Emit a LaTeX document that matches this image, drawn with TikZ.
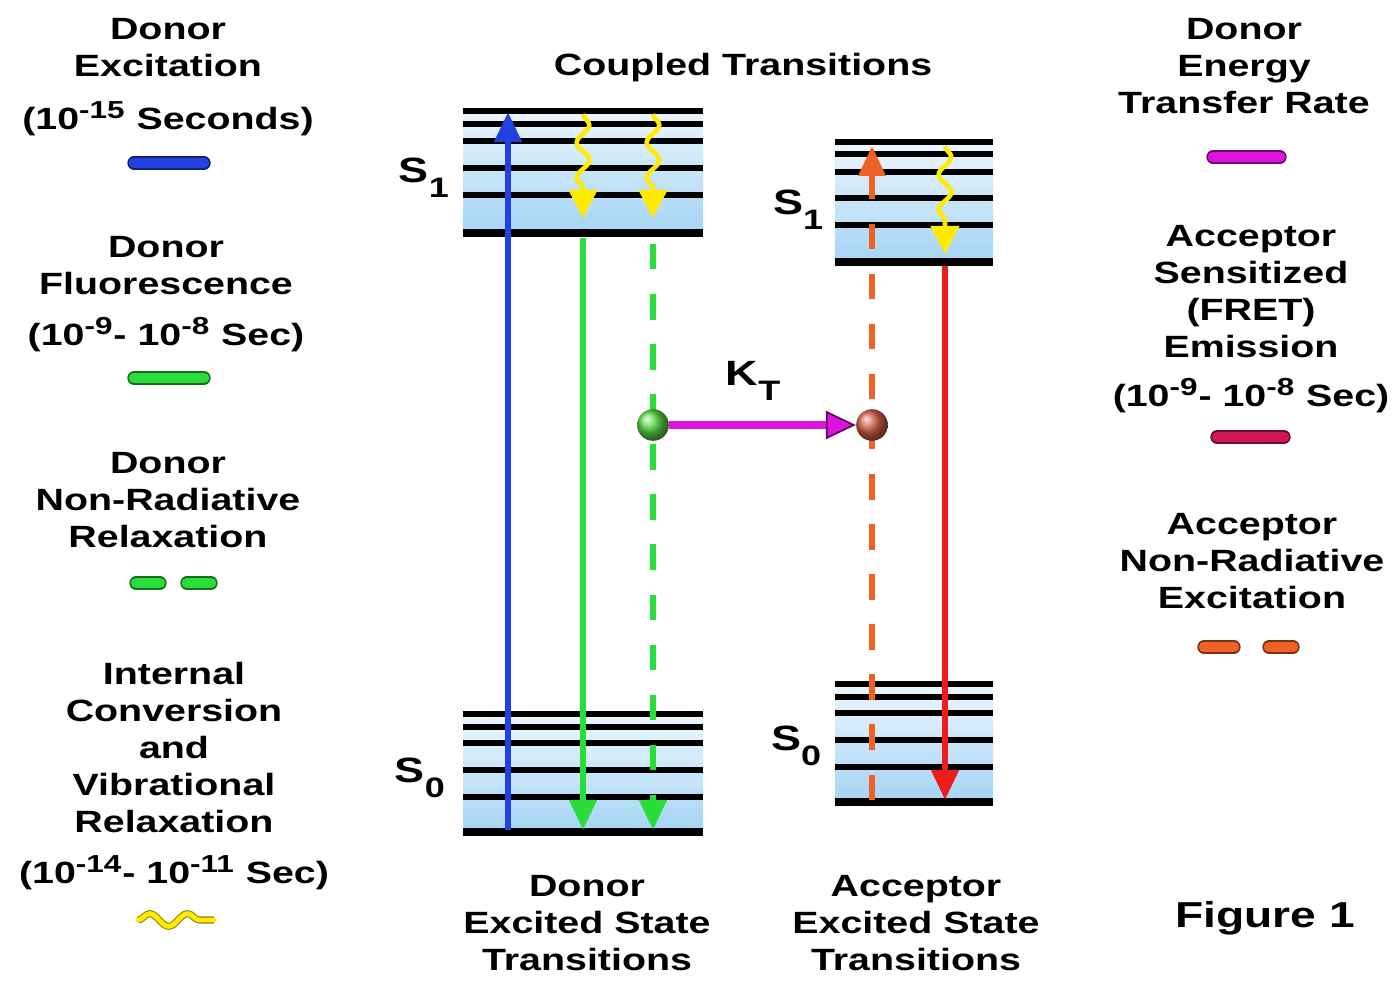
\documentclass[tikz,border=0pt]{standalone}
\usepackage{fontspec}
\setmainfont{Liberation Sans}[FakeStretch=1.28]
\usetikzlibrary{arrows.meta,positioning,decorations.pathmorphing,shadings}
\definecolor{ExBlue}{HTML}{2242E0}
\definecolor{FlGreen}{HTML}{2ADD3A}
\definecolor{WaveYel}{HTML}{FFEA00}
\definecolor{AccOrange}{HTML}{EE6226}
\definecolor{EmRed}{HTML}{EE1C1C}
\definecolor{KtMag}{HTML}{DD12DD}
\definecolor{FretRed}{HTML}{D21656}
\definecolor{LevelBlue}{HTML}{A4D4F4}
\definecolor{BallGreen}{HTML}{5ADC48}
\definecolor{BallRed}{HTML}{D8604C}
\newcommand\statelbl[1]{S\raisebox{-0.42em}{\fontsize{16}{16}\selectfont #1}}
\newcommand\tenpow[1]{10\textsuperscript{\fontsize{14}{14}\selectfont #1}}

\begin{document}
\begin{tikzpicture}[x=0.02cm, y=-0.02cm,
        every node/.style={font=\fontsize{17.5}{21}\selectfont\bfseries, align=center, inner sep=0pt},
        lbl/.style={anchor=north},
        statetxt/.style={font=\fontsize{20}{20}\selectfont\bfseries},
        band/.style={top color=LevelBlue!20, bottom color=LevelBlue},
        level/.style={line width=3.6pt, draw=black},
        ground/.style={line width=4.6pt, draw=black},
        excite/.style={draw=ExBlue, line width=3.4pt, -{Triangle[length=17pt,width=15pt]}},
        fluor/.style={draw=FlGreen, line width=3.4pt, -{Triangle[length=17pt,width=15pt]}},
        nonrad/.style={draw=#1, line width=3.4pt, dash pattern=on 14.5pt off 14pt, -{Triangle[length=17pt,width=15pt]}},
        wavy/.style={draw=WaveYel, line width=2.6pt, decorate,
            decoration={snake, amplitude=3.6pt, segment length=20pt, post length=16pt},
            -{Triangle[length=16pt,width=16pt]}},
        transfer/.style={draw=KtMag, line width=5pt, -{Triangle[length=17pt,width=16pt, color=KtMag!45!black, fill=KtMag, line width=1pt]}},
        ball/.style={circle, minimum size=18pt, shading=ball, ball color=#1},
        legbar/.style={line width=6pt, line cap=round, draw=#1, preaction={draw=#1!50!black, line width=7.6pt, line cap=round}},
        legwave/.style={line width=2.8pt, draw=WaveYel, line cap=round, decorate,
            decoration={snake, amplitude=3.6pt, segment length=21.5pt},
            preaction={draw=WaveYel!55!black, line width=4pt}}
    ]
        \useasboundingbox (0,0) rectangle (1397,981);

        \shade[band] (463,110) rectangle (703,233);
        \shade[band] (463,714) rectangle (703,833);
        \shade[band] (835,142) rectangle (993,262);
        \shade[band] (835,684) rectangle (993,803);
        \foreach \y in {111,124,141,168,195} \draw[level] (463,\y) -- (703,\y);
        \draw[ground] (463,233) -- (703,233);
        \foreach \y in {714,727,743,770,797} \draw[level] (463,\y) -- (703,\y);
        \draw[ground] (463,832) -- (703,832);
        \foreach \y in {142,154,172,198,225} \draw[level] (835,\y) -- (993,\y);
        \draw[ground] (835,262) -- (993,262);
        \foreach \y in {684,697,713,740,767} \draw[level] (835,\y) -- (993,\y);
        \draw[ground] (835,802) -- (993,802);

        \node[statetxt] (ds1) at (424,178) {\statelbl{1}};
        \node[statetxt] (ds0) at (420,778) {\statelbl{0}};
        \node[statetxt] (as1) at (798,210) {\statelbl{1}};
        \node[statetxt] (as0) at (796,746) {\statelbl{0}};

        \coordinate (exlo) at (508,830);
        \coordinate (exhi) at (508,112);
        \coordinate (fltop) at (583,238);
        \coordinate (flbot) at (583,830);
        \coordinate (nrtop) at (653,244);
        \coordinate (nrbot) at (653,830);
        \coordinate (wd1a) at (583,114);
        \coordinate (wd1b) at (583,218);
        \coordinate (wd2a) at (653,114);
        \coordinate (wd2b) at (653,218);
        \coordinate (anrlo) at (872,800);
        \coordinate (anrhi) at (872,146);
        \coordinate (wa1a) at (945,146);
        \coordinate (wa1b) at (945,254);
        \coordinate (emtop) at (945,266);
        \coordinate (embot) at (945,800);

        \draw[excite] (exlo) -- (exhi);
        \draw[fluor] (fltop) -- (flbot);
        \draw[nonrad=FlGreen] (nrtop) -- (nrbot);
        \draw[wavy] (wd1a) -- (wd1b);
        \draw[wavy] (wd2a) -- (wd2b);
        \draw[nonrad=AccOrange] (anrlo) -- (anrhi);
        \draw[wavy] (wa1a) -- (wa1b);
        \draw[fluor, draw=EmRed] (emtop) -- (embot);

        \node[ball=BallGreen] (dball) at (653,425) {};
        \node[ball=BallRed] (aball) at (872,425) {};
        \draw[transfer] (dball) -- (aball);
        \node[statetxt] (kt) at (753,381) {K\raisebox{-0.42em}{\fontsize{16}{16}\selectfont T}};

        \node[lbl] (title) at (743,53) {Coupled Transitions};
        \node[lbl] (dtrans) at (587,875) {Donor\\Excited State\\Transitions};
        \node[lbl] (atrans) at (916,875) {Acceptor\\Excited State\\Transitions};

        \node[lbl] (dexc) at (168,18) {Donor\\Excitation\\[9pt](\tenpow{-15} Seconds)};
        \node[lbl] (dfl) at (166,236) {Donor\\Fluorescence\\[8pt](\tenpow{-9}- \tenpow{-8} Sec)};
        \node[lbl] (dnr) at (168,452) {Donor\\Non-Radiative\\Relaxation};
        \node[lbl] (icvr) at (174,662) {Internal\\Conversion\\and\\Vibrational\\Relaxation\\[8pt](\tenpow{-14}- \tenpow{-11} Sec)};

        \node[lbl] (dkt) at (1244,18) {Donor\\Energy\\Transfer Rate};
        \node[lbl] (afret) at (1251,225) {Acceptor\\Sensitized\\(FRET)\\Emission\\[7pt](\tenpow{-9}- \tenpow{-8} Sec)};
        \node[lbl] (anr) at (1252,513) {Acceptor\\Non-Radiative\\Excitation};
        \node[font=\fontsize{20.5}{24}\selectfont\bfseries] (fig) at (1265,918) {Figure 1};

        \draw[legbar=ExBlue] (134,163) -- (204,163);
        \draw[legbar=FlGreen] (134,378) -- (204,378);
        \draw[legbar=FlGreen] (136,583) -- (160,583);
        \draw[legbar=FlGreen] (187,583) -- (211,583);
        \draw[legwave] (138,920) -- (214,920);
        \draw[legbar=KtMag] (1213,157) -- (1280,157);
        \draw[legbar=FretRed] (1217,437) -- (1284,437);
        \draw[legbar=AccOrange] (1204,647) -- (1234,647);
        \draw[legbar=AccOrange] (1269,647) -- (1293,647);
    \end{tikzpicture}
\end{document}
